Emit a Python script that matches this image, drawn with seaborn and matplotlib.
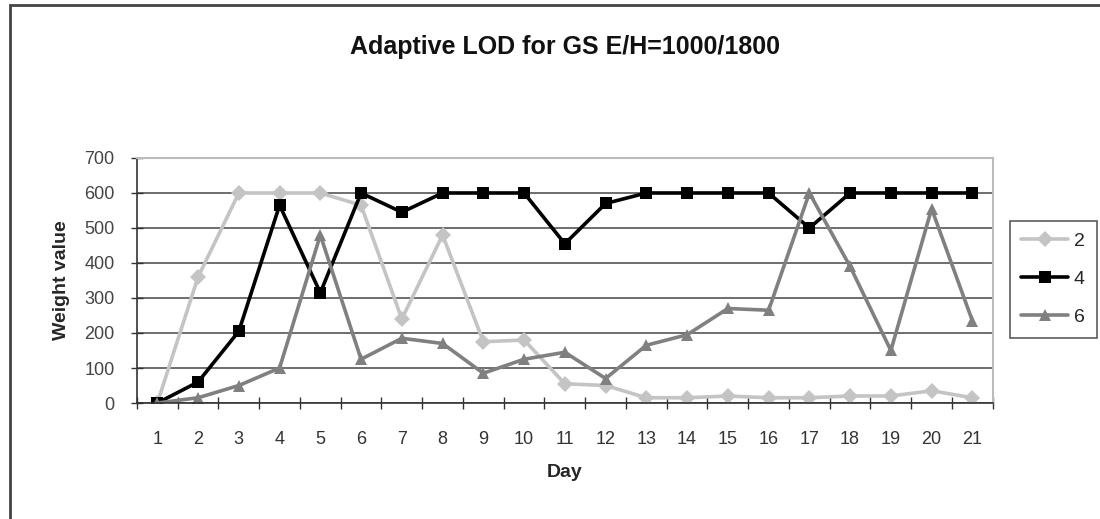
import matplotlib
matplotlib.use("Agg")
import matplotlib.pyplot as plt
import seaborn as sns
import pandas as pd
from matplotlib.patches import Rectangle

days = list(range(1, 22))
series_names = ["2", "4", "6"]
s2 = [0, 360, 600, 600, 600, 565, 240, 480, 175, 180, 55, 50, 15, 15, 20, 15, 15, 20, 20, 35, 15]
s4 = [0, 60, 205, 565, 315, 600, 545, 600, 600, 600, 455, 570, 600, 600, 600, 600, 500, 600, 600, 600, 600]
s6 = [0, 15, 50, 100, 480, 125, 185, 170, 85, 125, 145, 70, 165, 195, 270, 265, 600, 390, 150, 555, 235]
y_ticks = [0, 100, 200, 300, 400, 500, 600, 700]

df = pd.DataFrame({
    "Day": days * 3,
    "Weight value": s2 + s4 + s6,
    "Series": [series_names[0]] * 21 + [series_names[1]] * 21 + [series_names[2]] * 21,
})

sns.set_theme(style="white")
plt.rcParams["font.family"] = ["Liberation Sans", "DejaVu Sans"]

fig = plt.figure(figsize=(11, 5.19), dpi=100)
ax = fig.add_axes([0.1245, 0.2235, 0.778, 0.4721])

palette = {"2": "#c4c4c4", "4": "#000000", "6": "#808080"}
markers = {"2": "D", "4": "s", "6": "^"}
sns.lineplot(data=df, x="Day", y="Weight value", hue="Series", style="Series",
             palette=palette, markers=markers, dashes=False, linewidth=2.6,
             markersize=8, markeredgewidth=0, ax=ax, legend=True)

ax.set_xlim(0.5, 21.5)
ax.set_ylim(0, 700)
ax.set_yticks(y_ticks)
ax.set_xticks(days)
ax.set_xticks([d + 0.5 for d in range(0, 22)], minor=True)
ax.tick_params(axis="x", which="major", length=0, labelsize=13, pad=20, labelcolor="#333333")
ax.tick_params(axis="x", which="minor", length=8, width=1, color="#333333", direction="inout", bottom=True)
ax.tick_params(axis="y", which="major", length=8, width=1, color="#333333", direction="inout", left=True,
               labelsize=13, pad=12, labelcolor="#444444")
ax.yaxis.grid(True, color="#555555", linewidth=1.2)
ax.set_axisbelow(True)
for side in ["top", "right"]:
    ax.spines[side].set_color("#bbbbbb")
    ax.spines[side].set_linewidth(1.5)
for side in ["left", "bottom"]:
    ax.spines[side].set_color("#333333")
    ax.spines[side].set_linewidth(1.2)

ax.set_xlabel("Day", fontsize=14, fontweight="bold", labelpad=12)
ax.set_ylabel("Weight value", fontsize=14, fontweight="bold", labelpad=10)
fig.text(0.514, 0.909, "Adaptive LOD for GS E/H=1000/1800", ha="center", va="center",
         fontsize=18, fontweight="bold", color="#111111")

handles, labels = ax.get_legend_handles_labels()
ax.get_legend().remove()
leg = fig.legend(handles, labels, loc="upper left", bbox_to_anchor=(0.918, 0.575),
                 frameon=True, fancybox=False, fontsize=14, handlelength=2.4,
                 labelspacing=1.05, borderpad=0.6, handletextpad=0.3, borderaxespad=0)
leg.get_frame().set_edgecolor("#333333")
leg.get_frame().set_linewidth(1.2)

fig.patches.append(Rectangle((0.009, -0.1), 1.2, 1.09, transform=fig.transFigure,
                             fill=False, edgecolor="#444444", linewidth=2))

fig.savefig("out.png", dpi=100)
